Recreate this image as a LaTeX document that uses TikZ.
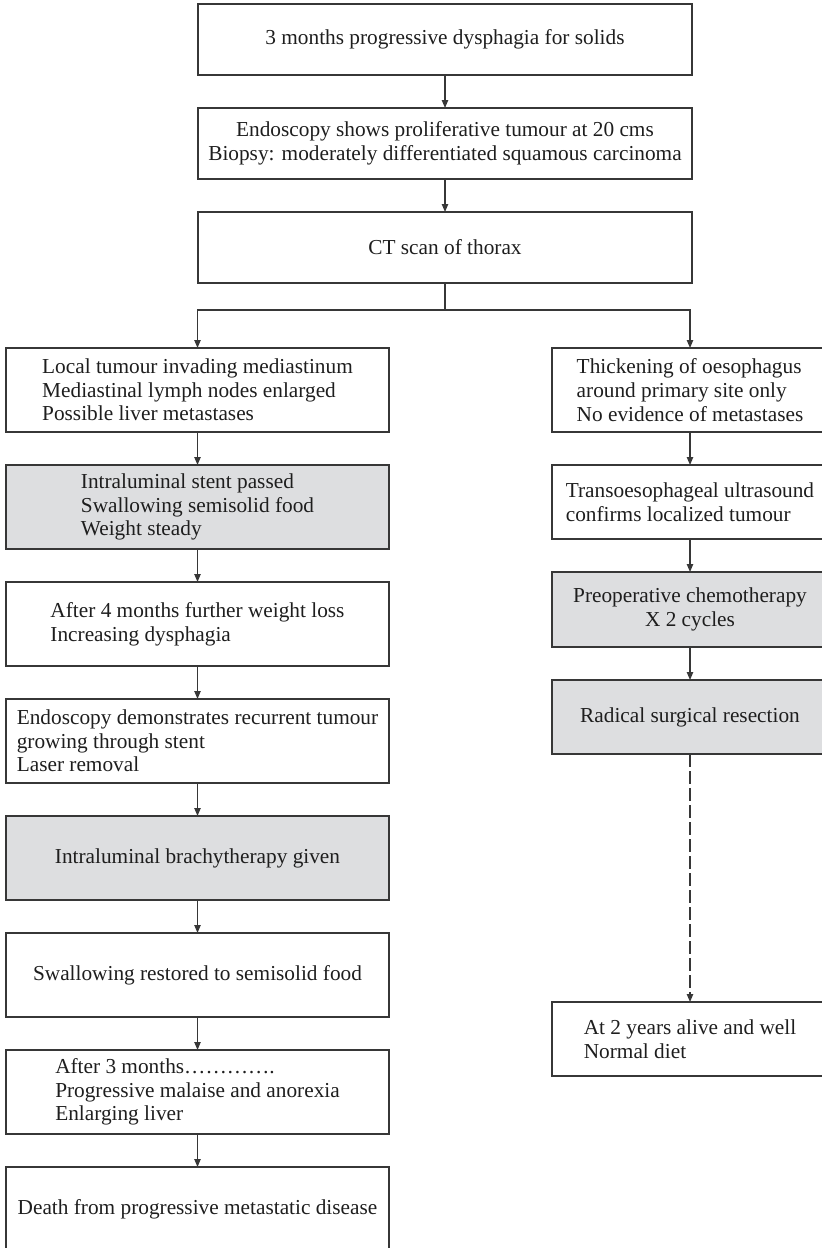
\documentclass[tikz,border=0pt]{standalone}
\usepackage{fontspec}
\setmainfont{Liberation Serif}
\usetikzlibrary{arrows.meta, positioning}
\definecolor{cShade}{RGB}{221, 222, 224}
\definecolor{bLine}{RGB}{55, 55, 55}
\definecolor{tDark}{RGB}{30, 30, 30}

\begin{document}
\begin{tikzpicture}[
    x=0.5pt, y=-0.5pt,
    font=\fontsize{10.65}{11.8}\selectfont,
    node distance=16.5pt,
    box/.style={
        draw=bLine,
        line width=0.75pt,
        text=tDark,
        inner sep=2pt,
        outer sep=0pt
    },
    topbox/.style={box, align=center, minimum width=247pt, minimum height=35.5pt},
    lbox/.style={box, align=left, minimum width=191.5pt, minimum height=42pt},
    rbox/.style={box, align=left, minimum width=138pt, minimum height=37pt},
    shade/.style={fill=cShade},
    arrow/.style={-{Triangle[length=4pt, width=3.2pt]}, line width=0.6pt, draw=bLine}
]

\clip (0,0) rectangle (822,1248);

% common trunk
\node[topbox] (onset) at (445, 39.5) {3 months progressive dysphagia for solids};

\node[topbox, below=of onset] (endo) {
    Endoscopy shows proliferative tumour at 20 cms\\
    Biopsy: moderately differentiated squamous carcinoma
};

\node[topbox, below=of endo] (ct) {CT scan of thorax};

\coordinate[below=13.5pt of ct] (split);

% left branch
\node[lbox] (spread) at (197.5, 390) {
    Local tumour invading mediastinum\\
    Mediastinal lymph nodes enlarged\\
    Possible liver metastases
};

\node[lbox, shade, below=of spread] (stent) {
    Intraluminal stent passed\\
    Swallowing semisolid food\\
    Weight steady
};

\node[lbox, below=of stent] (relapse) {
    After 4 months further weight loss\\
    Increasing dysphagia
};

\node[lbox, below=of relapse] (regrow) {
    Endoscopy demonstrates recurrent tumour\\
    growing through stent\\
    Laser removal
};

\node[lbox, shade, align=center, below=of regrow] (brachy) {Intraluminal brachytherapy given};

\node[lbox, align=center, below=of brachy] (restored) {Swallowing restored to semisolid food};

\node[lbox, below=of restored] (decline) {
    After 3 months………….\\
    Progressive malaise and anorexia\\
    Enlarging liver
};

\node[lbox, align=center, below=of decline] (death) {Death from progressive metastatic disease};

% right branch
\node[rbox, minimum height=42pt] (local) at (690, 390) {
    Thickening of oesophagus\\
    around primary site only\\
    No evidence of metastases
};

\node[rbox, below=of local] (eus) {
    Transoesophageal ultrasound\\
    confirms localized tumour
};

\node[rbox, shade, align=center, minimum height=37.5pt, below=of eus] (chemo) {
    Preoperative chemotherapy\\
    X 2 cycles
};

\node[rbox, shade, align=center, below=of chemo] (resect) {Radical surgical resection};

\node[rbox, below=124pt of resect] (well) {
    At 2 years alive and well\\
    Normal diet
};

\draw[arrow] (onset) -- (endo);
\draw[arrow] (endo) -- (ct);
\draw[line width=0.6pt, draw=bLine] (ct) -- (split);
\draw[arrow] (split) -| (spread.north);
\draw[arrow] (split) -| (local.north);

\draw[arrow] (spread) -- (stent);
\draw[arrow] (stent) -- (relapse);
\draw[arrow] (relapse) -- (regrow);
\draw[arrow] (regrow) -- (brachy);
\draw[arrow] (brachy) -- (restored);
\draw[arrow] (restored) -- (decline);
\draw[arrow] (decline) -- (death);

\draw[arrow] (local) -- (eus);
\draw[arrow] (eus) -- (chemo);
\draw[arrow] (chemo) -- (resect);
\draw[arrow, dash pattern=on 6.5pt off 2pt] (resect) -- (well);

\end{tikzpicture}
\end{document}
